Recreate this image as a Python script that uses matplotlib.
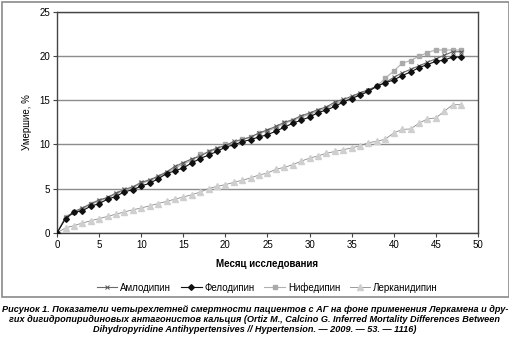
import numpy as np
import matplotlib
matplotlib.use("Agg")
import matplotlib.pyplot as plt
from matplotlib.patches import Rectangle

plt.rcParams['font.family'] = ['Liberation Sans', 'DejaVu Sans']

months = list(range(49))
amlodipin = [0, 1.7, 2.4, 2.8, 3.3, 3.7, 4.0, 4.5, 4.9, 5.2, 5.7, 6.0, 6.4, 6.9, 7.5, 7.95,
             8.35, 8.65, 9.2, 9.6, 9.85, 10.35, 10.55, 10.85, 11.3, 11.65, 12.05, 12.5, 12.8,
             13.25, 13.55, 13.95, 14.25, 14.8, 15.1, 15.45, 15.85, 16.2, 16.6, 17.0, 17.6,
             18.1, 18.5, 18.9, 19.3, 19.7, 20.1, 20.5, 20.5]
felodipin = [0, 1.6, 2.3, 2.5, 3.0, 3.3, 3.8, 4.1, 4.65, 4.85, 5.3, 5.6, 6.1, 6.7, 7.0, 7.35,
             7.9, 8.4, 8.8, 9.2, 9.7, 9.95, 10.3, 10.55, 10.85, 11.1, 11.5, 11.95, 12.4, 12.75,
             13.1, 13.6, 13.9, 14.3, 14.8, 15.2, 15.6, 16.0, 16.6, 17.0, 17.3, 17.8, 18.2, 18.7,
             19.05, 19.4, 19.55, 19.9, 19.9]
nifedipin = [0, 1.8, 2.3, 2.7, 3.2, 3.6, 3.9, 4.4, 4.8, 5.1, 5.6, 5.9, 6.3, 6.8, 7.3, 7.8,
             8.2, 8.9, 9.1, 9.5, 10.0, 10.2, 10.6, 10.8, 11.3, 11.5, 11.9, 12.4, 12.7, 13.1,
             13.4, 13.8, 14.1, 14.6, 14.9, 15.3, 15.7, 16.1, 16.6, 17.5, 18.3, 19.2, 19.5, 20.0,
             20.4, 20.7, 20.7, 20.7, 20.7]
lercanidipin = [0, 0.55, 0.8, 1.1, 1.35, 1.6, 1.85, 2.1, 2.35, 2.6, 2.8, 3.05, 3.3, 3.55, 3.8,
                4.05, 4.3, 4.6, 5.0, 5.25, 5.45, 5.7, 5.95, 6.2, 6.55, 6.75, 7.2, 7.4, 7.7, 8.1,
                8.45, 8.7, 9.0, 9.2, 9.4, 9.6, 9.85, 10.2, 10.35, 10.6, 11.3, 11.7, 11.75, 12.4,
                12.9, 13.0, 13.75, 14.5, 14.5]
x_ticks = [0, 5, 10, 15, 20, 25, 30, 35, 40, 45, 50]
y_ticks = [0, 5, 10, 15, 20, 25]

caption = ("Рисунок 1. Показатели четырехлетней смертности пациентов с АГ на фоне применения Леркамена и дру-\n"
           "гих дигидропиридиновых антагонистов кальция (Ortiz M., Calcino G. Inferred Mortality Differences Between\n"
           "Dihydropyridine Antihypertensives // Hypertension. — 2009. — 53. — 1116)")

fig = plt.figure(figsize=(5.10, 3.38), dpi=100)
fig.patches.append(Rectangle((0.004, 0.12), 0.994, 0.874, transform=fig.transFigure,
                             fill=False, edgecolor="#8a8a8a", linewidth=1.2))
ax = fig.add_axes([0.112, 0.3115, 0.825, 0.653])

ax.plot(months, amlodipin, color="#6a6a6a", lw=0.8, marker="x", ms=3.0, mew=0.7,
        mec="#555555", label="Амлодипин", zorder=3)
ax.plot(months, felodipin, color="#111111", lw=0.8, marker="D", ms=2.9, mfc="#111111",
        mec="#111111", label="Фелодипин", zorder=4)
ax.plot(months, nifedipin, color="#b0b0b0", lw=0.8, marker="s", ms=3.0, mfc="#aaaaaa",
        mec="#aaaaaa", label="Нифедипин", zorder=2)
ax.plot(months, lercanidipin, color="#8a8a8a", lw=0.6, marker="^", ms=3.8, mfc="#cfcfcf",
        mec="#cfcfcf", label="Лерканидипин", zorder=2)

ax.set_xlim(0, 50); ax.set_ylim(0, 25)
ax.set_xticks(x_ticks); ax.set_yticks(y_ticks)
ax.yaxis.grid(True, color="#8c8c8c", lw=1.0)
ax.set_axisbelow(True)
ax.tick_params(labelsize=7, length=3, width=0.8, color="#444444", pad=2)
for s in ax.spines.values():
    s.set_color("#444444"); s.set_linewidth(1.0)
ax.set_xlabel("Месяц исследования", fontsize=7, fontweight="bold", labelpad=7)
ax.set_ylabel("Умершие, %", fontsize=7, labelpad=5)

ax.legend(loc="upper center", bbox_to_anchor=(0.5, -0.185), ncol=4, frameon=False,
          fontsize=7, handlelength=2.1, columnspacing=1.0, handletextpad=0.3)

fig.text(0.5, 0.098, caption, ha="center", va="top", fontsize=6.6, fontweight="bold",
         style="italic", linespacing=1.12)

fig.savefig("out.png", dpi=100)
